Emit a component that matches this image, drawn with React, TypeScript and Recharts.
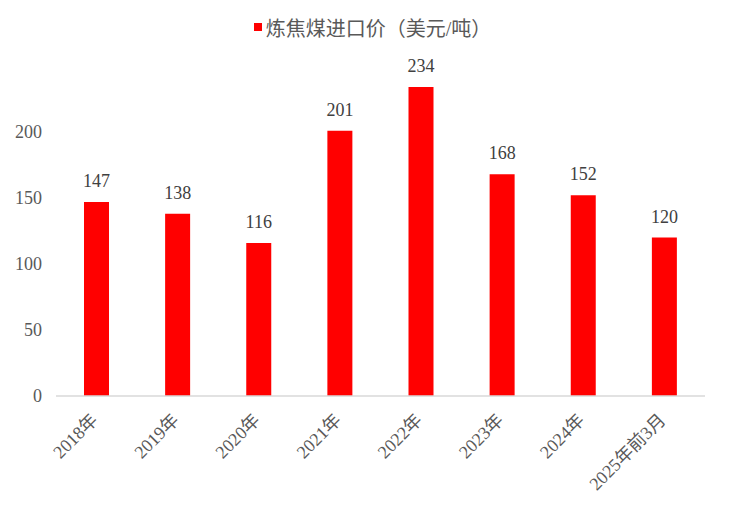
import React from 'react';
import { BarChart, Bar, XAxis, YAxis, Legend, LabelList } from 'recharts';

const categories = ['2018年', '2019年', '2020年', '2021年', '2022年', '2023年', '2024年', '2025年前3月'];
const prices = [147, 138, 116, 201, 234, 168, 152, 120];
const yTicks = [0, 50, 100, 150, 200];

const data = categories.map((c, i) => ({ name: c, value: prices[i] }));

const FONT = '"Liberation Serif", "Noto Sans CJK SC", serif';

const XTick = (props: any) => {
  const { x, y, payload } = props;
  return (
    <g transform={`translate(${x - 2},${y + 13})`}>
      <text
        textAnchor="end"
        fill="#595959"
        fontSize={18}
        fontFamily={FONT}
        transform="rotate(-45)"
        dy={6}
      >
        {payload.value}
      </text>
    </g>
  );
};

const LegendContent = () => (
  <div
    style={{
      display: 'flex',
      justifyContent: 'center',
      alignItems: 'center',
      fontFamily: FONT,
      fontSize: 20,
      color: '#595959',
      height: 22,
      paddingLeft: 40,
    }}
  >
    <span style={{ display: 'inline-block', width: 8, height: 8, background: '#FF0000', marginRight: 4 }} />
    <span>炼焦煤进口价（美元/吨）</span>
  </div>
);

export default function App() {
  return (
    <div style={{ position: 'fixed', left: 0, top: 0, width: 730, height: 516, background: '#fff' }}>
      <BarChart
        width={730}
        height={516}
        data={data}
        margin={{ top: 26, right: 25, bottom: 20, left: 0 }}
        barSize={25}
      >
        <Legend
          verticalAlign="top"
          align="center"
          height={40}
          content={<LegendContent />}
          wrapperStyle={{ top: 16 }}
        />
        <XAxis
          dataKey="name"
          tickLine={false}
          axisLine={{ stroke: '#D9D9D9', strokeWidth: 1.5 }}
          interval={0}
          height={100}
          tick={<XTick />}
        />
        <YAxis
          width={56}
          domain={[0, 250]}
          ticks={yTicks}
          axisLine={false}
          tickLine={false}
          tick={{ fill: '#595959', fontSize: 18, fontFamily: FONT }}
          tickMargin={8}
        />
        <Bar dataKey="value" fill="#FF0000" isAnimationActive={false}>
          <LabelList
            dataKey="value"
            position="top"
            offset={15}
            fill="#404040"
            fontSize={18}
            fontFamily={FONT}
          />
        </Bar>
      </BarChart>
    </div>
  );
}
